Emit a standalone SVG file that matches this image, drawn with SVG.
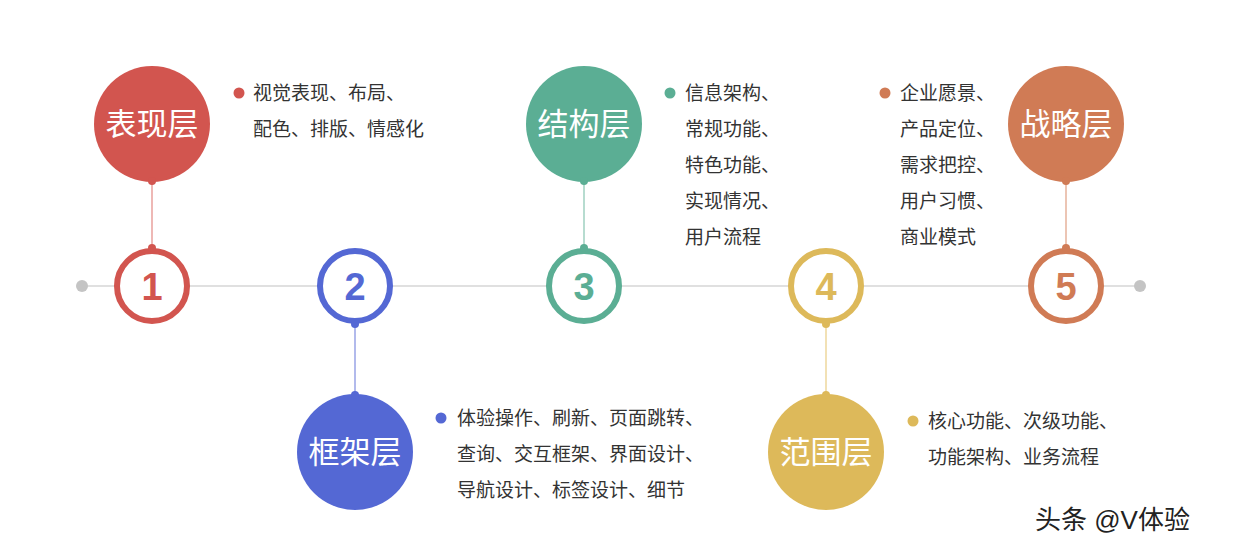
<svg xmlns="http://www.w3.org/2000/svg" width="1240" height="554" viewBox="0 0 1240 554">
<style>
text{font-family:"Liberation Sans","Noto Sans CJK SC",sans-serif}
.t{font-size:19px;fill:#333}
.big{font-size:31px;fill:#fff;text-anchor:middle}
.num{font-size:38px;font-weight:bold;text-anchor:middle}
.ring{fill:#fff;stroke-width:6}
</style>
<rect width="1240" height="554" fill="#fff"/>
<g id="connectors">
<line x1="82" y1="286" x2="1140" y2="286" stroke="#d6d6d6" stroke-width="1.5"/>
<circle cx="82" cy="286" r="6" fill="#c4c4c4"/><circle cx="1140" cy="286" r="6" fill="#c4c4c4"/>
<line x1="152" y1="180" x2="152" y2="248" stroke="#e8a09d" stroke-width="1.5"/>
<line x1="355" y1="324" x2="355" y2="396" stroke="#98a3e6" stroke-width="1.5"/>
<line x1="584" y1="180" x2="584" y2="248" stroke="#9fd1c1" stroke-width="1.5"/>
<line x1="826" y1="324" x2="826" y2="396" stroke="#eed79c" stroke-width="1.5"/>
<line x1="1066" y1="180" x2="1066" y2="248" stroke="#e6b29b" stroke-width="1.5"/>
</g>
<g id="n1">
<circle cx="152" cy="124" r="58" fill="#D2554F"/><circle cx="152" cy="181" r="4" fill="#D2554F"/>
<text class="big" x="152" y="135">表现层</text>
<circle cx="152" cy="286" r="35" class="ring" stroke="#D2554F"/><circle cx="152" cy="248" r="4" fill="#D2554F"/>
<text class="num" x="152" y="300" fill="#D2554F">1</text>
<circle cx="239" cy="93" r="5.5" fill="#D2554F"/>
<text class="t" x="253" y="100">视觉表现、布局、</text><text class="t" x="253" y="136">配色、排版、情感化</text>
</g>
<g id="n2">
<circle cx="355" cy="452" r="58" fill="#5468D4"/><circle cx="355" cy="395" r="4" fill="#5468D4"/>
<text class="big" x="355" y="463">框架层</text>
<circle cx="355" cy="286" r="35" class="ring" stroke="#5468D4"/><circle cx="355" cy="324" r="4" fill="#5468D4"/>
<text class="num" x="355" y="300" fill="#5468D4">2</text>
<circle cx="441" cy="418" r="5.5" fill="#5468D4"/>
<text class="t" x="457" y="425">体验操作、刷新、页面跳转、</text><text class="t" x="457" y="461">查询、交互框架、界面设计、</text><text class="t" x="457" y="497">导航设计、标签设计、细节</text>
</g>
<g id="n3">
<circle cx="584" cy="124" r="58" fill="#5BAE94"/><circle cx="584" cy="181" r="4" fill="#5BAE94"/>
<text class="big" x="584" y="135">结构层</text>
<circle cx="584" cy="286" r="35" class="ring" stroke="#5BAE94"/><circle cx="584" cy="248" r="4" fill="#5BAE94"/>
<text class="num" x="584" y="300" fill="#5BAE94">3</text>
<circle cx="670" cy="93" r="5.5" fill="#5BAE94"/>
<text class="t" x="685" y="100">信息架构、</text><text class="t" x="685" y="136">常规功能、</text><text class="t" x="685" y="172">特色功能、</text><text class="t" x="685" y="208">实现情况、</text><text class="t" x="685" y="244">用户流程</text>
</g>
<g id="n4">
<circle cx="826" cy="452" r="58" fill="#DDB95A"/><circle cx="826" cy="395" r="4" fill="#DDB95A"/>
<text class="big" x="826" y="463">范围层</text>
<circle cx="826" cy="286" r="35" class="ring" stroke="#DDB95A"/><circle cx="826" cy="324" r="4" fill="#DDB95A"/>
<text class="num" x="826" y="300" fill="#DDB95A">4</text>
<circle cx="913" cy="421" r="5.5" fill="#DDB95A"/>
<text class="t" x="928" y="428">核心功能、次级功能、</text><text class="t" x="928" y="464">功能架构、业务流程</text>
</g>
<g id="n5">
<circle cx="1066" cy="124" r="58" fill="#D07B55"/><circle cx="1066" cy="181" r="4" fill="#D07B55"/>
<text class="big" x="1066" y="135">战略层</text>
<circle cx="1066" cy="286" r="35" class="ring" stroke="#D07B55"/><circle cx="1066" cy="248" r="4" fill="#D07B55"/>
<text class="num" x="1066" y="300" fill="#D07B55">5</text>
<circle cx="885" cy="93" r="5.5" fill="#D07B55"/>
<text class="t" x="900" y="100">企业愿景、</text><text class="t" x="900" y="136">产品定位、</text><text class="t" x="900" y="172">需求把控、</text><text class="t" x="900" y="208">用户习惯、</text><text class="t" x="900" y="244">商业模式</text>
</g>
<text x="1035" y="529" font-size="26" fill="#222">头条 @V体验</text>
</svg>
